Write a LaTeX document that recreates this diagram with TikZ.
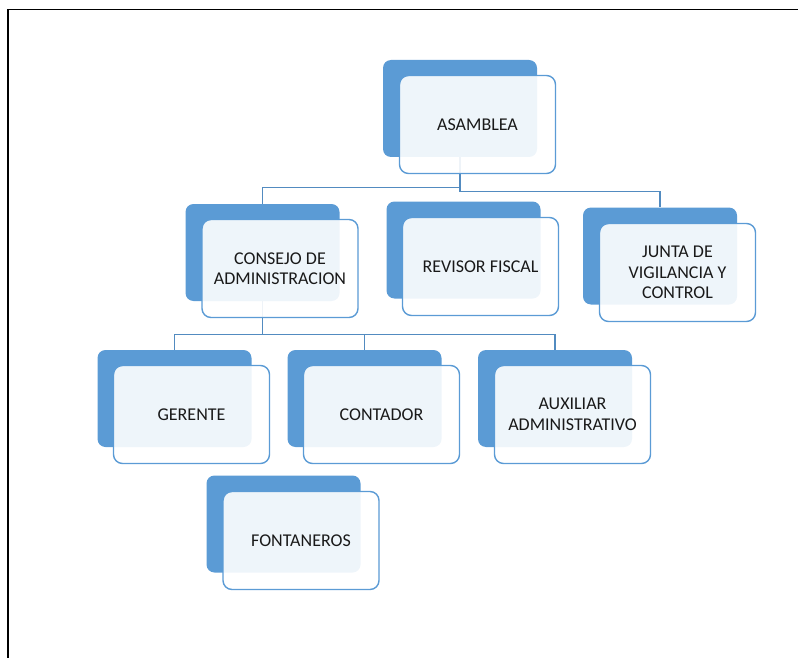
\documentclass[tikz,border=0pt]{standalone}
\usepackage{fontspec}
\setmainfont{Carlito}
\usepackage{tikz}
\usetikzlibrary{calc}
\usetikzlibrary{positioning}
\definecolor{ofblue}{HTML}{5B9BD5}
\tikzstyle{darkbox} = [rectangle, rounded corners=8pt, fill=ofblue, minimum width=154pt, minimum height=97pt, inner sep=0pt]
\tikzstyle{lightbox} = [rectangle, rounded corners=9pt, draw=ofblue, line width=1.4pt, fill=white, fill opacity=0.9, text opacity=1, minimum width=156pt, minimum height=98pt, align=center, inner sep=0pt, text=black!90, font=\fontsize{18}{20.5}\selectfont]
\tikzstyle{link} = [-, draw=ofblue!90!black, line width=1.4pt]

\begin{document}
\begin{tikzpicture}[x=1pt, y=-1pt]
\useasboundingbox (0, 0) rectangle (798, 658);
\draw [line width=1.3pt] (8, 658) -- (8, 9.5) -- (798, 9.5);
\node [darkbox] (ASb) at (460, 108.5) {};
\node [darkbox] (CAb) at (262.5, 252.5) {};
\node [darkbox] (RFb) at (463.5, 250) {};
\node [darkbox] (JVb) at (660, 256) {};
\node [darkbox] (GEb) at (174.5, 398.5) {};
\node [darkbox] (COb) at (364.5, 398.5) {};
\node [darkbox] (AXb) at (555, 398.5) {};
\node [darkbox] (FOb) at (283.5, 524) {};
\draw [link] (ASb.south) -- ++(0, 30) -| (CAb.north);
\draw [link] (ASb.south) -- ++(0, 34) -| (JVb.north);
\draw [link] (CAb.south) -- ++(0, 33) -| (GEb.north);
\draw [link] (CAb.south) -- ++(0, 33) -| (COb.north);
\draw [link] (CAb.south) -- ++(0, 33) -| (AXb.north);
\node [lightbox] (AS) at (477.5, 124.5) {ASAMBLEA};
\node [lightbox] (CA) at (280, 268.5) {CONSEJO DE\\ADMINISTRACION};
\node [lightbox] (RF) at (480.5, 266.5) {REVISOR FISCAL};
\node [lightbox] (JV) at (677.5, 272.5) {JUNTA DE\\VIGILANCIA Y\\CONTROL};
\node [lightbox] (GE) at (191.5, 414.5) {GERENTE};
\node [lightbox] (CO) at (381.5, 414.5) {CONTADOR};
\node [lightbox] (AX) at (572.5, 414.5) {AUXILIAR\\ADMINISTRATIVO};
\node [lightbox] (FO) at (301, 540.5) {FONTANEROS};
\end{tikzpicture}
\end{document}
